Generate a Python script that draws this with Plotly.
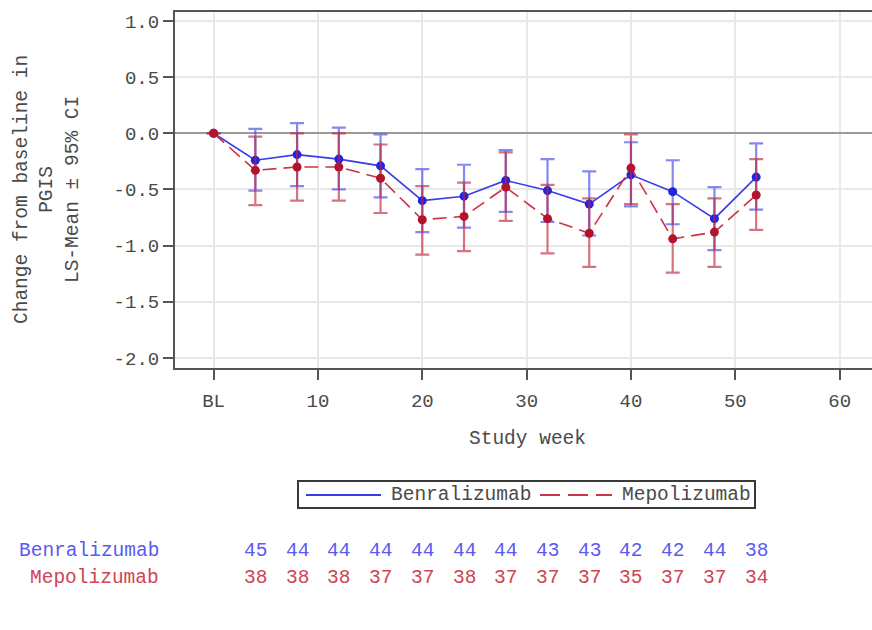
import plotly.graph_objects as go

# Study visits (weeks) and LS-mean change from baseline in PGIS with 95% CI
weeks = [0, 4, 8, 12, 16, 20, 24, 28, 32, 36, 40, 44, 48, 52]

benra_mean = [0, -0.24, -0.19, -0.23, -0.29, -0.60, -0.56, -0.42, -0.51, -0.63, -0.37, -0.52, -0.76, -0.39]
benra_lo = [0, -0.51, -0.47, -0.50, -0.57, -0.88, -0.84, -0.70, -0.79, -0.91, -0.65, -0.81, -1.04, -0.68]
benra_hi = [0, 0.04, 0.09, 0.05, -0.01, -0.32, -0.28, -0.15, -0.23, -0.34, -0.08, -0.24, -0.48, -0.09]

mepo_mean = [0, -0.33, -0.30, -0.30, -0.40, -0.77, -0.74, -0.48, -0.76, -0.89, -0.31, -0.94, -0.88, -0.55]
mepo_lo = [0, -0.64, -0.60, -0.60, -0.71, -1.08, -1.05, -0.78, -1.07, -1.19, -0.63, -1.24, -1.19, -0.86]
mepo_hi = [0, -0.03, 0.00, 0.00, -0.10, -0.47, -0.44, -0.17, -0.46, -0.58, -0.01, -0.63, -0.58, -0.23]

# Number of patients at each post-baseline visit
n_weeks = weeks[1:]
n_benra = [45, 44, 44, 44, 44, 44, 44, 43, 43, 42, 42, 44, 38]
n_mepo = [38, 38, 38, 37, 37, 38, 37, 37, 37, 35, 37, 37, 34]

x_tickvals = [0, 10, 20, 30, 40, 50, 60]
x_ticktext = ["BL", "10", "20", "30", "40", "50", "60"]
y_tickvals = [1.0, 0.5, 0.0, -0.5, -1.0, -1.5, -2.0]
y_ticktext = ["1.0", "0.5", "0.0", "-0.5", "-1.0", "-1.5", "-2.0"]

FONT = "Liberation Mono, Courier New, monospace"
FS = 19.5
FS_TICK = 19
TXT = "#4a4a4a"
BLUE = "#2323e0"
BLUE_LINE = "#3a3aee"
BLUE_ERR = "rgba(70,70,235,0.65)"
BLUE_TXT = "#5a5af0"
RED = "#b3142c"
RED_LINE = "#cc3347"
RED_ERR = "rgba(190,40,60,0.65)"
RED_TXT = "#cf4455"


def err(mean, lo, hi):
    return dict(
        type="data",
        symmetric=False,
        array=[h - m for m, h in zip(mean, hi)],
        arrayminus=[m - l for m, l in zip(mean, lo)],
        thickness=2.2,
        width=7,
    )


fig = go.Figure()

fig.add_trace(go.Scatter(
    x=weeks, y=benra_mean, mode="lines+markers", name="Benralizumab",
    line=dict(color=BLUE_LINE, width=1.6),
    marker=dict(color=BLUE, size=9),
    error_y=dict(color=BLUE_ERR, **err(benra_mean, benra_lo, benra_hi)),
    showlegend=False,
))
fig.add_trace(go.Scatter(
    x=weeks, y=mepo_mean, mode="lines+markers", name="Mepolizumab",
    line=dict(color=RED_LINE, width=1.6, dash="14px,7px"),
    marker=dict(color=RED, size=9),
    error_y=dict(color=RED_ERR, **err(mepo_mean, mepo_lo, mepo_hi)),
    showlegend=False,
))


def px_x(p):
    # pixel column -> paper x (plot area spans 175..872)
    return (p - 175) / 697


def px_y(p):
    # pixel row -> paper y (plot area spans 12..368)
    return (368 - p) / 356


annotations = []
shapes = []

# Y-axis title (three lines, rotated)
annotations.append(dict(
    text="Change from baseline in<br>PGIS<br>LS-Mean \u00b1 95% CI",
    xref="paper", yref="paper", x=px_x(47), y=0.5, xanchor="center", yanchor="middle",
    textangle=-90, showarrow=False, font=dict(family=FONT, size=FS, color=TXT),
))
# X-axis title
annotations.append(dict(
    text="Study week", xref="paper", yref="paper", x=px_x(527), y=px_y(439),
    xanchor="center", yanchor="middle", showarrow=False,
    font=dict(family=FONT, size=FS, color=TXT),
))

# Legend box with line samples
LEG_Y = px_y(495)
shapes.append(dict(type="rect", xref="paper", yref="paper",
                   x0=px_x(298), x1=px_x(755), y0=px_y(481), y1=px_y(508),
                   line=dict(color="#3a3a3a", width=2), fillcolor="white"))
shapes.append(dict(type="line", xref="paper", yref="paper",
                   x0=px_x(306), x1=px_x(381), y0=LEG_Y, y1=LEG_Y,
                   line=dict(color=BLUE_LINE, width=1.8)))
shapes.append(dict(type="line", xref="paper", yref="paper",
                   x0=px_x(540), x1=px_x(612), y0=LEG_Y, y1=LEG_Y,
                   line=dict(color=RED_LINE, width=1.8, dash="20px,8px")))
annotations.append(dict(text="Benralizumab", xref="paper", yref="paper", x=px_x(389), y=LEG_Y,
                        xanchor="left", yanchor="middle", showarrow=False,
                        font=dict(family=FONT, size=FS, color=TXT)))
annotations.append(dict(text="Mepolizumab", xref="paper", yref="paper", x=px_x(620), y=LEG_Y,
                        xanchor="left", yanchor="middle", showarrow=False,
                        font=dict(family=FONT, size=FS, color=TXT)))

# Patients-at-risk table below the chart
ROW_B = px_y(551)
ROW_M = px_y(578)
annotations.append(dict(text="Benralizumab", xref="paper", yref="paper", x=px_x(161), y=ROW_B,
                        xanchor="right", yanchor="middle", showarrow=False,
                        font=dict(family=FONT, size=FS, color=BLUE_TXT)))
annotations.append(dict(text="Mepolizumab", xref="paper", yref="paper", x=px_x(161), y=ROW_M,
                        xanchor="right", yanchor="middle", showarrow=False,
                        font=dict(family=FONT, size=FS, color=RED_TXT)))
for w, nb, nm in zip(n_weeks, n_benra, n_mepo):
    annotations.append(dict(text=str(nb), xref="x", yref="paper", x=w, y=ROW_B,
                            xanchor="center", yanchor="middle", showarrow=False,
                            font=dict(family=FONT, size=FS, color=BLUE_TXT)))
    annotations.append(dict(text=str(nm), xref="x", yref="paper", x=w, y=ROW_M,
                            xanchor="center", yanchor="middle", showarrow=False,
                            font=dict(family=FONT, size=FS, color=RED_TXT)))

fig.update_layout(
    width=872, height=630,
    margin=dict(l=175, r=0, t=12, b=262),
    paper_bgcolor="white", plot_bgcolor="white",
    font=dict(family=FONT, size=FS, color=TXT),
    annotations=annotations,
    shapes=shapes,
    showlegend=False,
    xaxis=dict(
        range=[-3.7, 63.1], tickvals=x_tickvals, ticktext=x_ticktext,
        showgrid=True, gridcolor="#e8e8e8", gridwidth=2, zeroline=False,
        showline=True, linecolor="#555555", linewidth=2, mirror=True,
        ticks="outside", ticklen=10, tickwidth=2, tickcolor="#555555",
        ticklabelstandoff=4,
        tickfont=dict(family=FONT, size=FS_TICK, color=TXT),
    ),
    yaxis=dict(
        range=[-2.09, 1.08], tickvals=y_tickvals, ticktext=y_ticktext,
        showgrid=True, gridcolor="#e8e8e8", gridwidth=2,
        zeroline=True, zerolinecolor="#9a9a9a", zerolinewidth=2,
        showline=True, linecolor="#555555", linewidth=2, mirror=False,
        ticks="outside", ticklen=10, tickwidth=2, tickcolor="#555555",
        tickfont=dict(family=FONT, size=FS_TICK, color=TXT),
    ),
)

fig.write_html("out.html")
